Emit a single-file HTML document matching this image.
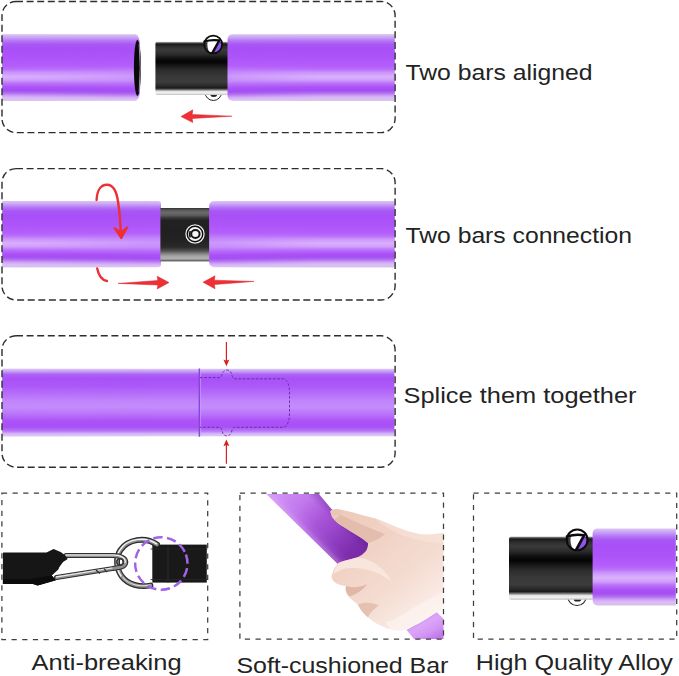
<!DOCTYPE html>
<html>
<head>
<meta charset="utf-8">
<title>Bar connection guide</title>
<style>
  html, body { margin: 0; padding: 0; background: #ffffff; }
  body { width: 679px; height: 676px; overflow: hidden; font-family: "Liberation Sans", sans-serif; }
  svg { display: block; }
  text { font-family: "Liberation Sans", sans-serif; fill: #232323; }
</style>
</head>
<body>
<svg width="679" height="676" viewBox="0 0 679 676">
  <defs>
    <!-- purple foam bar, vertical shading -->
    <linearGradient id="pur" x1="0" y1="0" x2="0" y2="1">
      <stop offset="0" stop-color="#dac6f6"/>
      <stop offset="0.05" stop-color="#c9a0f6"/>
      <stop offset="0.1" stop-color="#b476f5"/>
      <stop offset="0.15" stop-color="#a858f5"/>
      <stop offset="0.22" stop-color="#a851f7"/>
      <stop offset="0.35" stop-color="#ae55f9"/>
      <stop offset="0.48" stop-color="#b460fb"/>
      <stop offset="0.56" stop-color="#c284fb"/>
      <stop offset="0.63" stop-color="#cc98fc"/>
      <stop offset="0.7" stop-color="#c68cfb"/>
      <stop offset="0.76" stop-color="#b66afa"/>
      <stop offset="0.82" stop-color="#aa50f7"/>
      <stop offset="0.87" stop-color="#a64ff3"/>
      <stop offset="0.91" stop-color="#b473f2"/>
      <stop offset="0.95" stop-color="#d0a8f6"/>
      <stop offset="0.98" stop-color="#dcbef8"/>
      <stop offset="1" stop-color="#d6c4ec"/>
    </linearGradient>
    <!-- stronger banding, faded in towards the left end with a mask -->
    <linearGradient id="purStrong" x1="0" y1="0" x2="0" y2="1">
      <stop offset="0" stop-color="#dac6f6"/>
      <stop offset="0.05" stop-color="#c9a0f6"/>
      <stop offset="0.1" stop-color="#b476f5"/>
      <stop offset="0.15" stop-color="#a858f5"/>
      <stop offset="0.22" stop-color="#a850f7"/>
      <stop offset="0.35" stop-color="#ad53f9"/>
      <stop offset="0.48" stop-color="#b45efb"/>
      <stop offset="0.53" stop-color="#bb6ffb"/>
      <stop offset="0.575" stop-color="#cb94fb"/>
      <stop offset="0.637" stop-color="#d9b0fc"/>
      <stop offset="0.686" stop-color="#d2a2fb"/>
      <stop offset="0.734" stop-color="#bc74fa"/>
      <stop offset="0.8" stop-color="#aa50f7"/>
      <stop offset="0.847" stop-color="#a54ef2"/>
      <stop offset="0.887" stop-color="#b272f0"/>
      <stop offset="0.927" stop-color="#cfa6f5"/>
      <stop offset="0.96" stop-color="#dcbcf8"/>
      <stop offset="1" stop-color="#d4c0ea"/>
    </linearGradient>
    <linearGradient id="fadeL" gradientUnits="userSpaceOnUse" x1="0" y1="0" x2="150" y2="0">
      <stop offset="0" stop-color="#ffffff"/>
      <stop offset="0.35" stop-color="#bbbbbb"/>
      <stop offset="1" stop-color="#000000"/>
    </linearGradient>
    <linearGradient id="fadeR" gradientUnits="userSpaceOnUse" x1="215" y1="0" x2="320" y2="0">
      <stop offset="0" stop-color="#000000"/>
      <stop offset="1" stop-color="#ffffff"/>
    </linearGradient>
    <mask id="maskR" maskUnits="userSpaceOnUse" x="200" y="0" width="200" height="676">
      <rect x="200" y="0" width="200" height="676" fill="url(#fadeR)"/>
    </mask>
    <mask id="maskL" maskUnits="userSpaceOnUse" x="0" y="0" width="160" height="676">
      <rect x="0" y="0" width="160" height="676" fill="url(#fadeL)"/>
    </mask>
    <linearGradient id="pur3" x1="0" y1="0" x2="0" y2="1">
      <stop offset="0" stop-color="#dcc8f6"/>
      <stop offset="0.043" stop-color="#c49af7"/>
      <stop offset="0.083" stop-color="#ae62f5"/>
      <stop offset="0.145" stop-color="#a852f6"/>
      <stop offset="0.254" stop-color="#ac58f8"/>
      <stop offset="0.363" stop-color="#b66cfa"/>
      <stop offset="0.472" stop-color="#c084fb"/>
      <stop offset="0.565" stop-color="#c48cfc"/>
      <stop offset="0.659" stop-color="#bb78fa"/>
      <stop offset="0.769" stop-color="#ac54f7"/>
      <stop offset="0.862" stop-color="#a850f6"/>
      <stop offset="0.924" stop-color="#b878f6"/>
      <stop offset="0.963" stop-color="#d6b4f9"/>
      <stop offset="0.99" stop-color="#dac6f2"/>
      <stop offset="1" stop-color="#c4aee4"/>
    </linearGradient>
    <linearGradient id="pur3Strong" x1="0" y1="0" x2="0" y2="1">
      <stop offset="0" stop-color="#dcc8f6"/>
      <stop offset="0.043" stop-color="#c49af7"/>
      <stop offset="0.083" stop-color="#ae62f5"/>
      <stop offset="0.145" stop-color="#a852f6"/>
      <stop offset="0.254" stop-color="#ac58f8"/>
      <stop offset="0.363" stop-color="#b66cfa"/>
      <stop offset="0.472" stop-color="#c084fb"/>
      <stop offset="0.565" stop-color="#c48cfc"/>
      <stop offset="0.659" stop-color="#bb78fa"/>
      <stop offset="0.769" stop-color="#ac54f7"/>
      <stop offset="0.862" stop-color="#a850f6"/>
      <stop offset="0.924" stop-color="#b878f6"/>
      <stop offset="0.963" stop-color="#d6b4f9"/>
      <stop offset="0.99" stop-color="#dac6f2"/>
      <stop offset="1" stop-color="#c4aee4"/>
    </linearGradient>
    <!-- black alloy tube -->
    <linearGradient id="blk" x1="0" y1="0" x2="0" y2="1">
      <stop offset="0" stop-color="#d0d0d0"/>
      <stop offset="0.025" stop-color="#404040"/>
      <stop offset="0.05" stop-color="#1c1c1c"/>
      <stop offset="0.1" stop-color="#303030"/>
      <stop offset="0.155" stop-color="#3a3a3a"/>
      <stop offset="0.24" stop-color="#2a2a2a"/>
      <stop offset="0.325" stop-color="#0c0c0c"/>
      <stop offset="0.38" stop-color="#050505"/>
      <stop offset="0.445" stop-color="#161616"/>
      <stop offset="0.53" stop-color="#2c2c2c"/>
      <stop offset="0.65" stop-color="#383838"/>
      <stop offset="0.755" stop-color="#3c3c3c"/>
      <stop offset="0.825" stop-color="#2a2a2a"/>
      <stop offset="0.87" stop-color="#1a1a1a"/>
      <stop offset="0.895" stop-color="#606060"/>
      <stop offset="0.93" stop-color="#e0e0e0"/>
      <stop offset="0.96" stop-color="#f4f4f4"/>
      <stop offset="1" stop-color="#c0c0c0"/>
    </linearGradient>
    <linearGradient id="blk2" x1="0" y1="0" x2="0" y2="1">
      <stop offset="0" stop-color="#303030"/>
      <stop offset="0.035" stop-color="#555555"/>
      <stop offset="0.08" stop-color="#6a6a6a"/>
      <stop offset="0.13" stop-color="#606060"/>
      <stop offset="0.18" stop-color="#3a3a3a"/>
      <stop offset="0.23" stop-color="#222222"/>
      <stop offset="0.42" stop-color="#202020"/>
      <stop offset="0.59" stop-color="#222222"/>
      <stop offset="0.73" stop-color="#2a2a2a"/>
      <stop offset="0.8" stop-color="#505050"/>
      <stop offset="0.85" stop-color="#808080"/>
      <stop offset="0.9" stop-color="#a8a8a8"/>
      <stop offset="0.95" stop-color="#b0b0b0"/>
      <stop offset="0.985" stop-color="#606060"/>
      <stop offset="1" stop-color="#909090"/>
    </linearGradient>
    <radialGradient id="ball" cx="0.35" cy="0.3" r="0.8">
      <stop offset="0" stop-color="#ffffff"/>
      <stop offset="0.35" stop-color="#bdbdbd"/>
      <stop offset="0.7" stop-color="#3a3a3a"/>
      <stop offset="1" stop-color="#111111"/>
    </radialGradient>
    <linearGradient id="steel" x1="0" y1="0" x2="0" y2="1">
      <stop offset="0" stop-color="#6e6e6e"/>
      <stop offset="0.4" stop-color="#f2f2f2"/>
      <stop offset="1" stop-color="#5a5a5a"/>
    </linearGradient>
    <linearGradient id="skin" gradientUnits="userSpaceOnUse" x1="340" y1="520" x2="430" y2="630">
      <stop offset="0" stop-color="#eecbbc"/>
      <stop offset="0.30" stop-color="#f1d3c6"/>
      <stop offset="0.60" stop-color="#f4dcd1"/>
      <stop offset="0.85" stop-color="#faebe5"/>
      <stop offset="1" stop-color="#fdf3ef"/>
    </linearGradient>
    <linearGradient id="lowbar" gradientUnits="userSpaceOnUse" x1="418" y1="616" x2="432" y2="640">
      <stop offset="0" stop-color="#c47fee"/>
      <stop offset="0.35" stop-color="#dba6f8"/>
      <stop offset="0.7" stop-color="#d296f4"/>
      <stop offset="1" stop-color="#c07aec"/>
    </linearGradient>
    <linearGradient id="purd" gradientUnits="userSpaceOnUse" x1="282" y1="493" x2="354" y2="563">
      <stop offset="0" stop-color="#d08ef5"/>
      <stop offset="0.22" stop-color="#c178ec"/>
      <stop offset="0.45" stop-color="#aa56da"/>
      <stop offset="0.68" stop-color="#9240c4"/>
      <stop offset="0.88" stop-color="#7f2eae"/>
      <stop offset="1" stop-color="#7a2aa6"/>
    </linearGradient>
    <linearGradient id="purdsh" gradientUnits="userSpaceOnUse" x1="300" y1="525" x2="324.4" y2="499.9">
      <stop offset="0" stop-color="#e8c0ff" stop-opacity="0.32"/>
      <stop offset="0.12" stop-color="#e8c0ff" stop-opacity="0.08"/>
      <stop offset="0.3" stop-color="#e8c0ff" stop-opacity="0"/>
      <stop offset="0.75" stop-color="#4a1680" stop-opacity="0"/>
      <stop offset="1" stop-color="#4a1680" stop-opacity="0.28"/>
    </linearGradient>
    <!-- chrome spring ball r=10 at origin -->
    <g id="cball">
      <circle cx="0" cy="0" r="9.5" fill="#ffffff"/>
      <path d="M5.8 -4.6 L9.4 -1.5 C10 2 8.5 6 5 8.4 L0.6 9.4 L-0.2 7.6 Z" fill="#6a35c8"/>
      <path d="M6.6 -2.4 L8.8 0 C8.8 3 7 5.8 4 7.6 L1.8 7.8 Z" fill="#8f55e6"/>
      <path d="M-9 -2 C-9.6 2.5 -7.5 7 -3.8 8.8 C-5.8 5.5 -6.6 1.5 -6 -2.6 Z" fill="#3a3a3a"/>
      <path d="M-9.4 -3.2 C-5 -4.6 1 -5.2 6.4 -4.3 L-0.8 8.6" fill="none" stroke="#0b0b0b" stroke-width="2.4" stroke-linecap="round" stroke-linejoin="round"/>
      <circle cx="0" cy="0" r="9.5" fill="none" stroke="#0b0b0b" stroke-width="1.9"/>
    </g>
    <g id="cball2">
      <circle cx="0" cy="0" r="9.3" fill="#ffffff" stroke="#222" stroke-width="1.1"/>
      <ellipse cx="0.5" cy="3.2" rx="3.6" ry="2.2" fill="#222"/>
    </g>
  </defs>

  <!-- ============ PANEL 1 ============ -->
  <g id="panel1">
    
    <!-- left purple -->
    <path d="M2.4 34.3 H136 Q139.3 35.6 140 45 Q141.6 67.6 140 91 Q139.3 99.4 136 100.7 H2.4 Z" fill="url(#pur)"/>
    <rect x="2.4" y="34.3" width="134" height="66.4" fill="url(#purStrong)" mask="url(#maskL)"/>
    <ellipse cx="137.4" cy="67.9" rx="3.5" ry="28" fill="#0a0a0a"/>
    <path d="M139.2 44 Q141.2 67 139.2 92" fill="none" stroke="#d8d0e4" stroke-width="0.7"/>
    <!-- bottom ball (behind tube) -->
    <use href="#cball2" transform="translate(213.3 92.1) scale(0.9)"/>
    <!-- black tube -->
    <rect x="155.4" y="41.8" width="73" height="53.2" rx="2" fill="url(#blk)"/>
    <!-- top ball -->
    <use href="#cball" transform="translate(213.2 44.5) scale(0.94)"/>
    <!-- right purple -->
    <rect x="227.5" y="34.3" width="166.9" height="66.4" rx="5" fill="url(#pur)"/>
    <rect x="388" y="34.3" width="6.4" height="66.4" fill="url(#pur)"/>
    <rect x="232" y="34.3" width="162.4" height="66.4" fill="url(#purStrong)" mask="url(#maskR)"/>
    <!-- red arrow -->
    <path d="M181 116.5 L192.8 109.8 L192.2 114.4 L231.9 116.2 L192.2 118.5 L192.8 122.6 Z" fill="#ee2f33" stroke="#d4262c" stroke-width="0.5" stroke-linejoin="round"/>
    <rect x="2" y="1.5" width="393.1" height="131.1" rx="14" ry="14" fill="none" stroke="#2e2e2e" stroke-width="1.4" stroke-dasharray="7 3.6"/>
  </g>

  <text x="405.5" y="79.5" font-size="21.3" textLength="187" lengthAdjust="spacingAndGlyphs">Two bars aligned</text>

  <!-- ============ PANEL 2 ============ -->
  <g id="panel2">
    
    <path d="M2.4 201 H158 Q161 201 161 204 V264.2 Q161 267.2 158 267.2 H2.4 Z" fill="url(#pur)"/>
    <rect x="2.4" y="201" width="150" height="66.2" fill="url(#purStrong)" mask="url(#maskL)"/>
    <rect x="160.4" y="208" width="49.6" height="53.6" fill="url(#blk2)"/>
    <rect x="209.1" y="201" width="185.3" height="66.2" rx="5" fill="url(#pur)"/>
    <rect x="388" y="201" width="6.4" height="66.2" fill="url(#pur)"/>
    <rect x="214" y="201" width="180.4" height="66.2" fill="url(#purStrong)" mask="url(#maskR)"/>
    <!-- button -->
    <circle cx="195" cy="234" r="9.9" fill="#0c0c0c"/>
    <circle cx="195" cy="234" r="9.1" fill="none" stroke="#ededed" stroke-width="1.3"/>
    <circle cx="195" cy="234" r="7" fill="#f4f4f4"/>
    <ellipse cx="195.4" cy="234" rx="4.2" ry="4" fill="none" stroke="#141414" stroke-width="2"/>
    <path d="M190.2 231 Q189 234 190.2 237.4" fill="none" stroke="#141414" stroke-width="1.6"/>
    <!-- rotate arrow -->
    <path d="M96.6 200 C97 190 101 184.6 107.2 184.8 C113.5 185 116.8 193 118 201.5 C119.3 210 120.4 222 120.9 234" fill="none" stroke="#ee2f33" stroke-width="2.4" stroke-linecap="round"/>
    <path d="M114.3 228 L121.3 238.2 L127.4 227.2 L121.2 232 Z" fill="#ee2f33" stroke="#ee2f33" stroke-width="1.8" stroke-linecap="round" stroke-linejoin="round"/>
    <path d="M97.2 268.4 C98.6 275 101.5 280 107 281" fill="none" stroke="#ee2f33" stroke-width="2.4" stroke-linecap="round"/>
    <!-- straight arrows -->
    <path d="M169 282.6 L157.2 276.2 L157.8 280.5 L118 283.4 L157.8 285 L157.2 289 Z" fill="#ee2f33" stroke="#d4262c" stroke-width="0.5" stroke-linejoin="round"/>
    <path d="M203 282.2 L215 275.8 L214.4 280.2 L254 281.4 L214.4 284.6 L215 288.8 Z" fill="#ee2f33" stroke="#d4262c" stroke-width="0.5" stroke-linejoin="round"/>
    <rect x="2" y="168.6" width="393.1" height="131.4" rx="14" ry="14" fill="none" stroke="#2e2e2e" stroke-width="1.4" stroke-dasharray="7 3.6"/>
  </g>

  <text x="405.5" y="243" font-size="21.3" textLength="226.5" lengthAdjust="spacingAndGlyphs">Two bars connection</text>

  <!-- ============ PANEL 3 ============ -->
  <g id="panel3">
    
    <rect x="2.4" y="368.8" width="392" height="67.4" fill="url(#pur3)"/>
    <rect x="2.4" y="368.8" width="150" height="67.4" fill="url(#pur3Strong)" mask="url(#maskL)"/>
    <line x1="199.3" y1="368.4" x2="199.3" y2="436.8" stroke="#8444dc" stroke-width="1.3"/>
    <line x1="200.6" y1="369.6" x2="200.6" y2="436" stroke="#c9a4fa" stroke-width="0.9" opacity="0.7"/>
    <path d="M200 377.6 H219.5 C221.5 377.6 221.6 375.5 222.3 373.6 C223.2 371.3 224.8 370 226.9 370 C229 370 230.6 371.3 231.5 373.6 C232.2 375.5 232.4 378.6 234.5 378.8 H283.5 C287.6 380 289.5 385 289.5 393 V413 C289.5 421 287.6 426.4 283.5 427.3 H234.5 C232.4 427.4 232.2 430 231.5 432 C230.6 434.5 229 435.8 226.9 435.8 C224.8 435.8 223.2 434.5 222.3 432 C221.6 430 221.5 427.3 219.5 427.3 H200" fill="none" stroke="#6326ad" stroke-width="0.9" stroke-dasharray="2.6 1.7"/>
    <!-- red arrows -->
    <line x1="226.4" y1="342" x2="226.4" y2="361" stroke="#d42121" stroke-width="1.2"/>
    <path d="M223.4 359.6 L226.4 366.2 L229.4 359.6 Q226.4 361.4 223.4 359.6 Z" fill="#d42121"/>
    <line x1="226.4" y1="463.8" x2="226.4" y2="445" stroke="#d42121" stroke-width="1.2"/>
    <path d="M223.4 446.2 L226.4 439.6 L229.4 446.2 Q226.4 444.4 223.4 446.2 Z" fill="#d42121"/>
    <rect x="2" y="335.8" width="393.1" height="131.4" rx="14" ry="14" fill="none" stroke="#2e2e2e" stroke-width="1.4" stroke-dasharray="7 3.6"/>
  </g>

  <text x="403.5" y="403" font-size="21.8" textLength="233" lengthAdjust="spacingAndGlyphs">Splice them together</text>

  <!-- ============ BOTTOM 1: Anti-breaking ============ -->
  <g id="bottom1">
    <rect x="1.9" y="493.1" width="205.8" height="146.4" fill="none" stroke="#3e3e3e" stroke-width="1.25" stroke-dasharray="5.2 5.45"/>
    <!-- right strap -->
    <rect x="152.3" y="544.6" width="54.5" height="38" fill="#191919"/>
    <line x1="168" y1="546" x2="168" y2="583" stroke="#2e2e2e" stroke-width="1"/>
    <line x1="150.5" y1="549" x2="207.5" y2="549" stroke="#262626" stroke-width="0.8"/>
    <line x1="150.5" y1="579.5" x2="207.5" y2="579.5" stroke="#262626" stroke-width="0.8"/>
    <!-- D ring -->
    <path d="M157 544.5 C145 536.5 128 539 120.5 550 C115.5 557 116 568 121.5 576 C128 585 140 587.5 150.5 585.5" fill="none" stroke="#2b2b2b" stroke-width="5.8" stroke-linecap="round"/>
    <path d="M157 544.5 C145 536.5 128 539 120.5 550 C115.5 557 116 568 121.5 576 C128 585 140 587.5 150.5 585.5" fill="none" stroke="#8e8e8e" stroke-width="3.4" stroke-linecap="round"/>
    <path d="M156.5 543.8 C145 536 127.5 538.6 120 549.8 C115.2 557 115.6 568 121 576" fill="none" stroke="#f2f2f2" stroke-width="1.4" stroke-linecap="round"/>
    <path d="M123 577.5 C129 585 140 587 150 585" fill="none" stroke="#dddddd" stroke-width="1.1" stroke-linecap="round"/>
    <!-- carabiner -->
    <path d="M66 555.5 H113 C121 555.5 127 558.5 125.5 563.5 C124.5 567 119 567.6 112 568.6 L56.5 577.5" fill="none" stroke="#2f2f2f" stroke-width="5" stroke-linecap="round" stroke-linejoin="round"/>
    <path d="M66 555.5 H113 C121 555.5 127 558.5 125.5 563.5 C124.5 567 119 567.6 112 568.6 L56.5 577.5" fill="none" stroke="#909090" stroke-width="2.8" stroke-linecap="round" stroke-linejoin="round"/>
    <path d="M66 555 H113 C121 555 126.5 558.2 125 562.8" fill="none" stroke="#f6f6f6" stroke-width="1.2" stroke-linecap="round" stroke-linejoin="round"/>
    <path d="M112 568 L56.5 576.9" fill="none" stroke="#ececec" stroke-width="1.2" stroke-linecap="round"/>
    <path d="M96 570 L100 573.6 M104 568.6 L107 572.2" stroke="#333" stroke-width="1.3" fill="none"/>
    <circle cx="120" cy="562" r="3.2" fill="none" stroke="#3a3a3a" stroke-width="1.6"/>
    <!-- left strap -->
    <path d="M2.9 552.4 H46.5 L53.6 548.9 Q60 551 64.8 555 L67.7 559.1 Q63 561.6 61.2 564.4 Q59 567 58.3 569.4 L51.8 575.6 L55.9 580.3 L37.7 585.6 L33 584 H2.9 Z" fill="#161616"/>
    <path d="M2.9 579 H30 L51.8 575.6 L55.9 580.3 L37.7 585.6 L33 584 H2.9 Z" fill="#0c0c0c"/>
    <!-- purple dashed circle -->
    <circle cx="161.3" cy="563.5" r="26.2" fill="none" stroke="#a164e6" stroke-width="2.5" stroke-dasharray="9.3 4.45" transform="rotate(-20 161.3 563.5)"/>
  </g>
  <text x="31.6" y="669.8" font-size="22.3" textLength="150" lengthAdjust="spacingAndGlyphs">Anti-breaking</text>

  <!-- ============ BOTTOM 2: Soft-cushioned Bar ============ -->
  <g id="bottom2">
    <clipPath id="clip2"><rect x="240" y="494" width="203.5" height="145"/></clipPath>
    <g clip-path="url(#clip2)">
      <!-- upper purple bar -->
      <path d="M265.3 493 L318 493 L331 508.6 L369.5 544 L374 553 L346 572 Z" fill="url(#purd)"/>
      <path d="M265.3 493 L318 493 L331 508.6 L369.5 544 L374 553 L346 572 Z" fill="url(#purdsh)"/>
      <!-- lower purple bar -->
      <path d="M406.5 630 L436.7 612 L446 621.2 V642 H416.5 Z" fill="url(#lowbar)"/>
      <!-- hand -->
      <path d="M330.3 511.6 C330.8 508.6 337 508.6 343.4 510.3 C350 511.6 355 513 361 514.7 C366 516 370 517 375 518.3 C390 524 398 528 404.5 530 C412 532.5 418 534.2 424 534.5 C431 534.8 438 533.5 446 532.4 L446 607 C442 609.5 439 611 436 612.7 C431 616 427 618.5 423 621 C418 624 413 626.5 408.4 628.4 C406.5 629.5 404.5 630 402.8 630.2 C398 630.8 394 630.4 390 629.3 C385 628 381 626 377 623.8 C372.5 621 369 618.5 366 615.5 C363.5 613 361 610 359.6 607.2 C359 606 358.4 605.2 357.7 604.4 C354 601.5 350 598.5 347.6 595.2 C346 593 345.2 590.5 345.8 588 C346 587.3 346 586.8 345.8 586 C341 585.5 336.5 584 333.8 581.4 C331.8 579.5 331 577 332 575 C333 570 335.5 565.5 338.4 563 C344 560 351 559.5 356.8 557.5 C360.5 556 364 553.5 366 551 C367.2 549 368 546.5 368.1 543 C365.5 541 363.5 539.5 361 537.7 C356 534.5 351.5 532 346.9 528.9 C342 526 337.5 523.5 334.5 520 C332.5 518 331.2 516 331 513.9 C330.6 513 330.2 512.3 330.3 511.6 Z" fill="url(#skin)"/>
      <!-- shading: under index finger -->
      <path d="M334.5 520 C337.5 523.5 342 526 346.9 528.9 C351.5 532 356 534.5 361 537.7 C363.5 539.5 365.5 541 368.1 543 C374 541.5 380 538.5 385 534 C372 529 355 522 340 514.5 Z" fill="#e0b8a7" opacity="0.8"/>
      <!-- thumb highlight -->
      <path d="M338.4 563 C344 560 351 559.5 356.8 557.5 C370 558 384 567 392 582 C381 573 366 567.5 350 568 C344 568.3 338.5 570.5 333.5 574 C334.5 569.5 336 565.5 338.4 563 Z" fill="#f9e9e1" opacity="0.85"/>
      <!-- creases -->
      <path d="M345.8 586 C352 588 360 587.5 367 584 C363 590 357 594 350 596.5 C347 594 345 590.5 345.8 586 Z" fill="#d8aa98" opacity="0.7"/>
      <path d="M357.7 604.4 C364 602 372 602 379 605.5 C374 609 369.5 613 368 617.5 C364 614 360 609.5 357.7 604.4 Z" fill="#ddb2a1" opacity="0.65"/>
      <path d="M385 622 C396 620 406 612 416 606 C426 600 436 596 446 590 V607 C442 609.5 439 611 436 612.7 C431 616 427 618.5 423 621 C418 624 413 626.5 408.4 628.4 C402 630.8 396 631 390 629.3 Z" fill="#fef7f4" opacity="0.5"/>
      <!-- back of hand highlight -->
      <path d="M375 518.3 C390 524 398 528 404.5 530 C412 532.5 418 534.2 424 534.5 C431 534.8 438 533.5 446 532.4 V543 C430 543.5 410 539.5 394 531.5 C386 527.5 380 523.5 375 518.3 Z" fill="#faeae3" opacity="0.4"/>
      <!-- fingernail -->
      <path d="M330.8 511.3 C331.8 508.8 337.5 508.6 343 510.2 C343.6 513 339.6 516 334.3 515.5 C331.6 514.8 330.4 513 330.8 511.3 Z" fill="#eac6b8"/>
    </g>
    <rect x="239.9" y="493.1" width="203.6" height="146.1" fill="none" stroke="#3e3e3e" stroke-width="1.25" stroke-dasharray="5.2 5.45"/>
  </g>
  <text x="236.4" y="673" font-size="22.3" textLength="212" lengthAdjust="spacingAndGlyphs">Soft-cushioned Bar</text>

  <!-- ============ BOTTOM 3: High Quality Alloy ============ -->
  <g id="bottom3">
    <rect x="473.5" y="493.1" width="203.2" height="146.1" fill="none" stroke="#3e3e3e" stroke-width="1.25" stroke-dasharray="5.2 5.45"/>
    <!-- bottom ball (behind tube) -->
    <use href="#cball2" transform="translate(577 596.2) scale(1.0)"/>
    <!-- black alloy tube -->
    <rect x="509" y="536.4" width="85" height="63.4" rx="2.5" fill="url(#blk)"/>
    <!-- top ball -->
    <use href="#cball" transform="translate(577.2 539.9) scale(1.09)"/>
    <!-- purple foam -->
    <path d="M598 528.6 H675.8 V605.4 H598 Q592.6 605.4 592.6 600 V534 Q592.6 528.6 598 528.6 Z" fill="url(#purStrong)"/>
  </g>
  <text x="475.8" y="670" font-size="22.4" textLength="197" lengthAdjust="spacingAndGlyphs">High Quality Alloy</text>
</svg>
</body>
</html>
